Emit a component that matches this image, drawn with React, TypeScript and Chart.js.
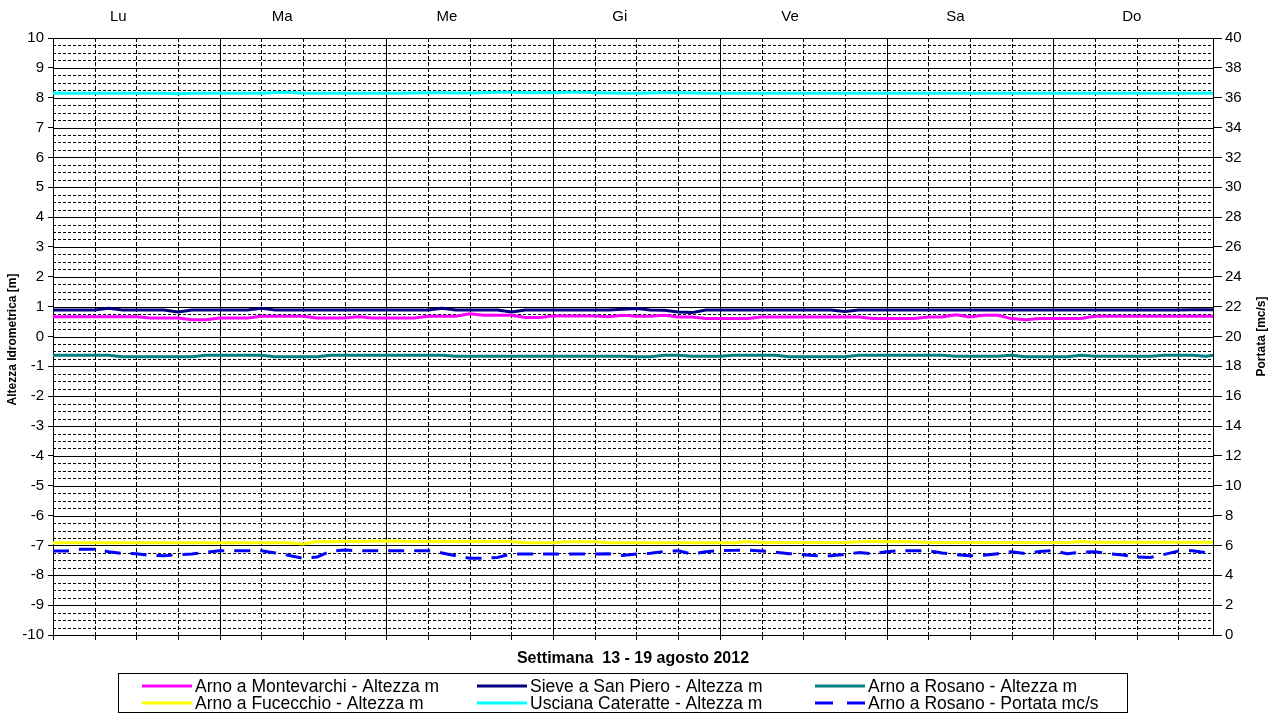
import { useEffect, useRef } from "react";
import { Chart, registerables } from "chart.js";

Chart.register(...registerables);

const FONT = "'Liberation Sans', Arial, Helvetica, sans-serif";

// Time axis: hours from Monday 00:00 (2-hour readings), last reading at 167 h
const hours = [...Array.from({ length: 84 }, (_, i) => i * 2), 167];

const dayLabels = ["Lu", "Ma", "Me", "Gi", "Ve", "Sa", "Do"];
const dayLabelHours = [9.4, 33, 56.7, 81.6, 106.1, 129.9, 155.3];

const heightTicks = [-10, -9, -8, -7, -6, -5, -4, -3, -2, -1, 0, 1, 2, 3, 4, 5, 6, 7, 8, 9, 10];
const flowTicks = [0, 2, 4, 6, 8, 10, 12, 14, 16, 18, 20, 22, 24, 26, 28, 30, 32, 34, 36, 38, 40];

const xTitle = "Settimana  13 - 19 agosto 2012";
const yTitle = "Altezza Idrometrica [m]";
const y2Title = "Portata [mc/s]";

const seriesNames = [
  "Arno a Montevarchi - Altezza m",
  "Sieve a San Piero - Altezza m",
  "Arno a Rosano - Altezza m",
  "Arno a Fucecchio - Altezza m",
  "Usciana Cateratte - Altezza m",
  "Arno a Rosano - Portata mc/s",
];

const montevarchi = [
  0.66, 0.66, 0.66, 0.66, 0.66, 0.66, 0.66, 0.62, 0.62, 0.62, 0.56, 0.56,
  0.62, 0.62, 0.62, 0.68, 0.68, 0.68, 0.68, 0.62, 0.62, 0.62, 0.66, 0.62,
  0.62, 0.62, 0.62, 0.68, 0.68, 0.68, 0.76, 0.71, 0.71, 0.71, 0.64, 0.64,
  0.69, 0.69, 0.69, 0.69, 0.66, 0.71, 0.68, 0.68, 0.71, 0.65, 0.65, 0.6,
  0.6, 0.6, 0.6, 0.65, 0.65, 0.65, 0.65, 0.65, 0.65, 0.65, 0.65, 0.6,
  0.6, 0.6, 0.6, 0.65, 0.65, 0.73, 0.65, 0.71, 0.71, 0.6, 0.56, 0.6,
  0.6, 0.6, 0.6, 0.68, 0.68, 0.68, 0.68, 0.68, 0.68, 0.68, 0.68, 0.68,
  0.68,
];

const sieve = [
  0.89, 0.89, 0.89, 0.89, 0.95, 0.89, 0.89, 0.89, 0.89, 0.82, 0.89, 0.89,
  0.89, 0.89, 0.89, 0.95, 0.89, 0.89, 0.89, 0.89, 0.89, 0.89, 0.89, 0.89,
  0.89, 0.89, 0.89, 0.89, 0.95, 0.89, 0.89, 0.89, 0.89, 0.82, 0.89, 0.89,
  0.89, 0.89, 0.89, 0.89, 0.89, 0.91, 0.94, 0.89, 0.88, 0.82, 0.8, 0.89,
  0.89, 0.89, 0.89, 0.89, 0.89, 0.89, 0.89, 0.89, 0.89, 0.84, 0.89, 0.89,
  0.89, 0.89, 0.89, 0.89, 0.89, 0.89, 0.89, 0.89, 0.89, 0.89, 0.89, 0.89,
  0.89, 0.89, 0.89, 0.89, 0.89, 0.89, 0.89, 0.89, 0.89, 0.89, 0.9, 0.9,
  0.9,
];

const rosanoHeight = [
  -0.63, -0.63, -0.63, -0.63, -0.63, -0.68, -0.68, -0.68, -0.68, -0.68, -0.68, -0.63,
  -0.63, -0.63, -0.63, -0.63, -0.68, -0.68, -0.68, -0.68, -0.63, -0.63, -0.63, -0.63,
  -0.63, -0.63, -0.63, -0.63, -0.63, -0.66, -0.66, -0.66, -0.66, -0.66, -0.66, -0.66,
  -0.66, -0.66, -0.66, -0.66, -0.66, -0.66, -0.68, -0.68, -0.63, -0.63, -0.66, -0.66,
  -0.66, -0.63, -0.63, -0.63, -0.63, -0.68, -0.68, -0.68, -0.68, -0.68, -0.63, -0.63,
  -0.63, -0.63, -0.63, -0.63, -0.63, -0.66, -0.66, -0.66, -0.66, -0.63, -0.68, -0.68,
  -0.68, -0.68, -0.63, -0.66, -0.66, -0.66, -0.66, -0.66, -0.63, -0.63, -0.63, -0.66,
  -0.63,
];

const fucecchio = [
  -6.91, -6.91, -6.91, -6.91, -6.91, -6.91, -6.91, -6.91, -6.91, -6.91, -6.91, -6.91,
  -6.91, -6.91, -6.91, -6.91, -6.91, -6.91, -6.95, -6.87, -6.88, -6.86, -6.87, -6.86,
  -6.85, -6.86, -6.87, -6.87, -6.87, -6.87, -6.87, -6.87, -6.87, -6.87, -6.91, -6.91,
  -6.91, -6.88, -6.88, -6.88, -6.91, -6.91, -6.91, -6.91, -6.91, -6.91, -6.91, -6.91,
  -6.91, -6.91, -6.87, -6.9, -6.9, -6.9, -6.9, -6.9, -6.9, -6.9, -6.88, -6.86,
  -6.88, -6.87, -6.88, -6.9, -6.9, -6.9, -6.9, -6.9, -6.9, -6.9, -6.9, -6.9,
  -6.9, -6.9, -6.87, -6.89, -6.89, -6.89, -6.89, -6.89, -6.89, -6.89, -6.89, -6.89,
  -6.89,
];

const usciana = [
  8.15, 8.15, 8.15, 8.15, 8.15, 8.15, 8.15, 8.15, 8.15, 8.13, 8.15, 8.15,
  8.15, 8.15, 8.15, 8.15, 8.17, 8.18, 8.15, 8.15, 8.15, 8.15, 8.15, 8.15,
  8.15, 8.15, 8.16, 8.17, 8.17, 8.16, 8.16, 8.17, 8.18, 8.18, 8.17, 8.17,
  8.17, 8.18, 8.18, 8.17, 8.16, 8.15, 8.15, 8.16, 8.17, 8.17, 8.16, 8.15,
  8.15, 8.15, 8.15, 8.15, 8.15, 8.15, 8.15, 8.15, 8.15, 8.15, 8.15, 8.15,
  8.15, 8.15, 8.15, 8.15, 8.15, 8.15, 8.15, 8.15, 8.15, 8.15, 8.15, 8.15,
  8.15, 8.15, 8.15, 8.15, 8.15, 8.15, 8.15, 8.15, 8.15, 8.15, 8.15, 8.15,
  8.15,
];

const rosanoFlow = [
  5.63, 5.63, 5.74, 5.74, 5.58, 5.47, 5.45, 5.33, 5.31, 5.38, 5.43, 5.55,
  5.65, 5.65, 5.65, 5.65, 5.5, 5.33, 5.14, 5.22, 5.62, 5.69, 5.65, 5.65,
  5.65, 5.65, 5.65, 5.65, 5.5, 5.31, 5.14, 5.14, 5.2, 5.43, 5.43, 5.43,
  5.43, 5.43, 5.43, 5.43, 5.45, 5.33, 5.43, 5.47, 5.6, 5.65, 5.42, 5.58,
  5.65, 5.67, 5.69, 5.63, 5.55, 5.45, 5.38, 5.31, 5.31, 5.4, 5.52, 5.45,
  5.58, 5.65, 5.65, 5.65, 5.5, 5.38, 5.31, 5.34, 5.45, 5.58, 5.45, 5.6,
  5.65, 5.45, 5.55, 5.58, 5.45, 5.36, 5.22, 5.2, 5.4, 5.62, 5.65, 5.52,
  5.48,
];

const seriesValues = [montevarchi, sieve, rosanoHeight, fucecchio, usciana, rosanoFlow];
const seriesColors = ["#FF00FF", "#000080", "#008080", "#FFFF00", "#00FFFF", "#0000FF"];

const toPoints = (vals: number[]) => vals.map((v, i) => ({ x: hours[i], y: v }));

const gridPlugin = {
  id: "excelGrid",
  beforeDatasetsDraw(chart: any) {
    const { ctx, chartArea, scales } = chart;
    const { left, right, top, bottom } = chartArea;
    const y = scales.y;
    const x = scales.x;
    ctx.save();
    ctx.lineWidth = 1;
    ctx.strokeStyle = "#000";
    for (let q = heightTicks[0] * 4; q <= heightTicks[heightTicks.length - 1] * 4; q++) {
      const py = Math.round(y.getPixelForValue(q / 4)) + 0.5;
      ctx.setLineDash(q % 4 === 0 ? [] : [3, 2]);
      ctx.beginPath();
      ctx.moveTo(left, py);
      ctx.lineTo(right, py);
      ctx.stroke();
    }
    for (let h = 6; h < x.max; h += 6) {
      const px = Math.round(x.getPixelForValue(h)) + 0.5;
      ctx.setLineDash(h % 24 === 0 ? [] : [4, 2]);
      ctx.beginPath();
      ctx.moveTo(px, top);
      ctx.lineTo(px, bottom);
      ctx.stroke();
    }
    ctx.setLineDash([]);
    for (let h = 0; h < x.max; h += 6) {
      const px = Math.round(x.getPixelForValue(h)) + 0.5;
      ctx.beginPath();
      ctx.moveTo(px, bottom);
      ctx.lineTo(px, bottom + 5);
      ctx.stroke();
    }
    ctx.strokeRect(Math.round(left) + 0.5, Math.round(top) + 0.5, Math.round(right - left), Math.round(bottom - top));
    ctx.restore();
  },
};

const textPlugin = {
  id: "excelTexts",
  afterDraw(chart: any) {
    const { ctx, chartArea } = chart;
    const { left, right, top, bottom } = chartArea;
    const cy = (top + bottom) / 2;
    ctx.save();
    ctx.fillStyle = "#000";
    ctx.textAlign = "center";
    ctx.textBaseline = "middle";
    ctx.font = `bold 16px ${FONT}`;
    ctx.fillText(xTitle, (left + right) / 2, bottom + 24);
    ctx.font = `bold 12px ${FONT}`;
    ctx.save();
    ctx.translate(13, cy + 3);
    ctx.rotate(-Math.PI / 2);
    ctx.fillText(yTitle, 0, 0);
    ctx.restore();
    ctx.save();
    ctx.translate(1262, cy);
    ctx.rotate(-Math.PI / 2);
    ctx.fillText(y2Title, 0, 0);
    ctx.restore();

    const boxX = 118, boxY = 673, boxW = 1009, boxH = 39;
    ctx.strokeStyle = "#000";
    ctx.lineWidth = 1;
    ctx.setLineDash([]);
    ctx.strokeRect(boxX + 0.5, boxY + 0.5, boxW, boxH);
    const colX = [142, 477, 815];
    const rowY = [686, 703];
    chart.data.datasets.forEach((ds: any, i: number) => {
      const x0 = colX[i % 3];
      const y0 = rowY[Math.floor(i / 3)];
      ctx.beginPath();
      ctx.strokeStyle = ds.borderColor;
      ctx.lineWidth = 3;
      ctx.setLineDash(ds.borderDash && ds.borderDash.length ? [18, 14] : []);
      ctx.moveTo(x0, y0);
      ctx.lineTo(x0 + 50, y0);
      ctx.stroke();
      ctx.setLineDash([]);
      ctx.fillStyle = "#000";
      ctx.font = `17.5px ${FONT}`;
      ctx.textAlign = "left";
      ctx.textBaseline = "middle";
      ctx.fillText(ds.label, x0 + 53, y0 + 1);
    });
    ctx.restore();
  },
};

export default function App() {
  const canvasRef = useRef<HTMLCanvasElement | null>(null);

  useEffect(() => {
    document.body.style.margin = "0";
    const canvas = canvasRef.current;
    if (!canvas) return;

    const datasets = seriesValues.map((vals, i) => ({
      label: seriesNames[i],
      data: toPoints(vals),
      borderColor: seriesColors[i],
      backgroundColor: seriesColors[i],
      borderWidth: 3,
      borderDash: i === 5 ? [16, 10] : [],
      pointRadius: 0,
      tension: 0,
      fill: false,
      borderJoinStyle: "round" as const,
      yAxisID: i === 5 ? "y2" : "y",
      xAxisID: "x",
    }));

    const chart = new Chart(canvas, {
      type: "line",
      data: { datasets },
      options: {
        animation: false,
        responsive: false,
        devicePixelRatio: 1,
        layout: { padding: { top: 0, left: 0, right: 0, bottom: 80 } },
        plugins: {
          legend: { display: false },
          tooltip: { enabled: false },
        },
        scales: {
          x: {
            type: "linear",
            min: 0,
            max: 167,
            display: false,
          },
          xTop: {
            type: "linear",
            position: "top",
            min: 0,
            max: 167,
            afterBuildTicks: (s: any) => {
              s.ticks = dayLabelHours.map((v) => ({ value: v }));
            },
            afterFit: (s: any) => {
              s.height = 38;
            },
            grid: { display: false, drawTicks: false },
            border: { display: false },
            ticks: {
              autoSkip: false,
              maxRotation: 0,
              minRotation: 0,
              padding: 12,
              color: "#000",
              font: { family: FONT, size: 15 },
              callback: (_v: any, i: number) => dayLabels[i],
            },
          },
          y: {
            type: "linear",
            position: "left",
            min: heightTicks[0],
            max: heightTicks[heightTicks.length - 1],
            afterBuildTicks: (s: any) => {
              s.ticks = heightTicks.map((v) => ({ value: v }));
            },
            afterFit: (s: any) => {
              s.width = 53;
            },
            grid: { drawOnChartArea: false, drawTicks: true, tickLength: 5, color: "#000" },
            border: { display: false },
            ticks: {
              padding: 4,
              color: "#000",
              font: { family: FONT, size: 15 },
              callback: (v: any) => String(v),
            },
          },
          y2: {
            type: "linear",
            position: "right",
            min: flowTicks[0],
            max: flowTicks[flowTicks.length - 1],
            afterBuildTicks: (s: any) => {
              s.ticks = flowTicks.map((v) => ({ value: v }));
            },
            afterFit: (s: any) => {
              s.width = 59;
            },
            grid: { drawOnChartArea: false, drawTicks: true, tickLength: 9, color: "#000" },
            border: { display: false },
            ticks: {
              padding: 3,
              color: "#000",
              font: { family: FONT, size: 15 },
              callback: (v: any) => String(v),
            },
          },
        },
      },
      plugins: [gridPlugin, textPlugin],
    });

    return () => chart.destroy();
  }, []);

  return (
    <div style={{ width: 1272, height: 715, background: "#fff" }}>
      <canvas ref={canvasRef} width={1272} height={715} style={{ display: "block", width: 1272, height: 715 }} />
    </div>
  );
}
